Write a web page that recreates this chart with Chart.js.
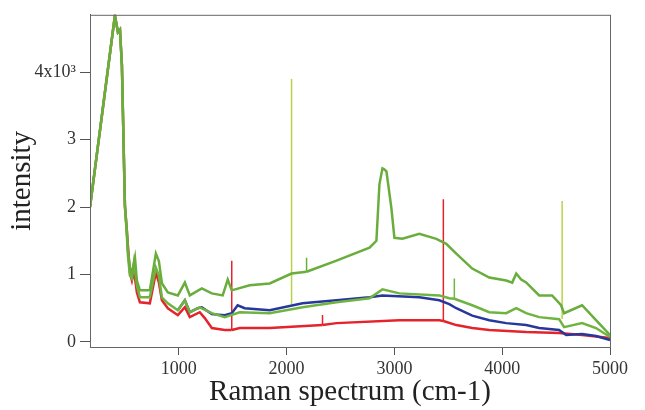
<!DOCTYPE html>
<html>
<head>
<meta charset="utf-8">
<script src="https://cdn.jsdelivr.net/npm/chart.js@4.4.0/dist/chart.umd.min.js"></script>
<style>
  body { margin: 0; background: #fff; }
</style>
</head>
<body>
<canvas id="myChart" width="645" height="410"></canvas>
<script>
/* global Chart */

// upper green trace
const topGreenX = [176, 407, 435, 454, 472, 500, 518, 528, 546, 565, 593, 611, 639, 731, 787, 815, 843, 898, 991, 1056,
  1102, 1213, 1306, 1407, 1454, 1491, 1657, 1843, 2046, 2185, 2185, 2185, 2463, 2769, 2833, 2861, 2889, 2905, 2926, 2972,
  3000, 3074, 3231, 3389, 3481, 3574, 3722, 3880, 4037, 4093, 4130, 4176, 4222, 4343, 4463, 4546, 4574, 4741, 4870, 5000];
const topGreenY = [2000, 4840, 4590, 4630, 4100, 2015, 1650, 1350, 1100, 1030, 1250, 910, 765, 765, 1310, 1200, 870, 735, 690, 880,
  690, 795, 720, 690, 925, 765, 840, 867, 1014, 1040, 1250, 1040, 1205, 1397, 1500, 2337, 2573, 2560, 2528, 1985,
  1544, 1529, 1602, 1529, 1455, 1308, 1088, 955, 911, 880, 1014, 925, 882, 690, 690, 544, 426, 544, 323, 103];

// lower green trace
const lowGreenX = [176, 407, 435, 454, 472, 500, 518, 528, 546, 565, 584, 611, 639, 731, 787, 815, 843, 898, 991, 1056,
  1102, 1194, 1306, 1426, 1565, 1843, 2148, 2463, 2769, 2889, 3046, 3417, 3509, 3556, 3556, 3556, 3722, 3880, 4037, 4130,
  4222, 4343, 4528, 4574, 4741, 4870, 5000];
const lowGreenY = [2000, 4840, 4590, 4630, 4100, 2015, 1570, 1280, 985, 940, 1176, 838, 661, 661, 1102, 985, 661, 573, 470, 617,
  441, 514, 426, 368, 441, 426, 514, 588, 647, 779, 720, 690, 647, 640, 940, 640, 544, 441, 426, 500,
  426, 368, 338, 220, 279, 206, 73];

// blue trace
const blueX = [991, 1056, 1102, 1176, 1213, 1306, 1426, 1491, 1546, 1611, 1843, 2148, 2463, 2769, 2889, 3231, 3417, 3509, 3574, 3722,
  3880, 4037, 4222, 4343, 4528, 4593, 4741, 4870, 5000];
const blueY = [470, 617, 441, 500, 514, 412, 397, 426, 544, 500, 470, 573, 617, 661, 690, 661, 617, 560, 500, 390,
  323, 279, 250, 206, 176, 103, 118, 88, 29];

// red trace
const redX = [176, 407, 435, 454, 472, 500, 518, 528, 546, 565, 584, 611, 639, 731, 787, 815, 843, 898, 991, 1056,
  1102, 1194, 1241, 1306, 1426, 1491, 1491, 1491, 1565, 1843, 2333, 2333, 2333, 2463, 3046, 3417, 3454, 3454, 3454, 3574,
  3722, 3880, 4222, 4528, 4741, 5000];
const redY = [2000, 4840, 4590, 4630, 4100, 2015, 1650, 1426, 1030, 911, 1058, 735, 588, 573, 1029, 882, 617, 500, 397, 514,
  368, 441, 353, 206, 176, 176, 1205, 176, 206, 206, 250, 400, 250, 279, 323, 323, 310, 2117, 310, 250,
  206, 176, 147, 132, 103, 59];

// thin yellow-green spikes
const spikeX = [2046, 4556];
const spikeBase = [560, 340];
const spikeTop = [3900, 2090];

const xTickValues = [1000, 2000, 3000, 4000, 5000];
const yTickValues = [0, 1000, 2000, 3000, 4000];
const yTickLabels = ['0', '1', '2', '3', '4x10³'];

function toPoints(xs, ys) {
  return xs.map((x, i) => ({ x: x, y: ys[i] }));
}

const spikePoints = [];
spikeX.forEach((x, i) => {
  spikePoints.push({ x: x, y: spikeBase[i] }, { x: x, y: spikeTop[i] }, { x: x, y: null });
});

// thinner stroke on the vertical spike segments inside a trace
function spikeWidth(ctx) {
  return ctx.p0.parsed.x === ctx.p1.parsed.x ? 1.5 : undefined;
}

const framePlugin = {
  id: 'frame',
  beforeDraw(chart) {
    const ctx = chart.ctx;
    ctx.save();
    ctx.fillStyle = '#fff';
    ctx.fillRect(0, 0, chart.width, chart.height);
    ctx.restore();
  },
  afterDraw(chart) {
    const { left, top, right, bottom } = chart.chartArea;
    const ctx = chart.ctx;
    ctx.save();
    ctx.strokeStyle = '#666';
    ctx.lineWidth = 1;
    ctx.strokeRect(left + 0.5, top + 0.5, right - left, bottom - top);
    ctx.restore();
  }
};

const serif = 'Liberation Serif, Times New Roman, serif';

const ctx = document.getElementById('myChart');
const myChart = new Chart(ctx, {
  type: 'line',
  data: {
    datasets: [
      { label: 'upper', data: toPoints(topGreenX, topGreenY), borderColor: '#69ad3c', borderWidth: 2.5, segment: { borderWidth: spikeWidth } },
      { label: 'lower', data: toPoints(lowGreenX, lowGreenY), borderColor: '#6fb440', borderWidth: 2.5, segment: { borderWidth: spikeWidth } },
      { label: 'blue', data: toPoints(blueX, blueY), borderColor: '#27379b', borderWidth: 2.5 },
      { label: 'red', data: toPoints(redX, redY), borderColor: '#e4232b', borderWidth: 2.5, segment: { borderWidth: spikeWidth } },
      { label: 'spikes', data: spikePoints, borderColor: '#b7d24a', borderWidth: 1.5, spanGaps: false }
    ]
  },
  options: {
    responsive: false,
    animation: false,
    devicePixelRatio: 1,
    layout: { padding: { top: 12, right: 35, left: 0, bottom: 0 } },
    elements: { point: { radius: 0 }, line: { tension: 0 } },
    plugins: { legend: { display: false }, tooltip: { enabled: false } },
    scales: {
      x: {
        type: 'linear',
        min: 176,
        max: 5000,
        afterBuildTicks(scale) {
          scale.ticks = xTickValues.map(v => ({ value: v }));
        },
        ticks: {
          maxRotation: 0,
          autoSkip: false,
          padding: 3,
          color: '#333',
          font: { family: serif, size: 18 },
          callback(value) { return String(value); }
        },
        grid: { drawOnChartArea: false, tickLength: 8, color: '#555' },
        border: { color: '#555', width: 1 },
        title: {
          display: true,
          text: 'Raman spectrum (cm-1)',
          color: '#222',
          font: { family: serif, size: 29 },
          padding: { top: 0, bottom: 0 }
        },
        afterFit(scale) { scale.height = 63; }
      },
      y: {
        min: -75,
        max: 4850,
        afterBuildTicks(scale) {
          scale.ticks = yTickValues.map(v => ({ value: v }));
        },
        ticks: {
          autoSkip: false,
          padding: 4,
          color: '#333',
          font: { family: serif, size: 18 },
          callback(value) {
            const i = yTickValues.indexOf(value);
            return i >= 0 ? yTickLabels[i] : '';
          }
        },
        grid: { drawOnChartArea: false, tickLength: 10, color: '#555' },
        border: { color: '#555', width: 1 },
        title: {
          display: true,
          text: 'intensity',
          color: '#222',
          font: { family: serif, size: 29 },
          padding: { top: 5, bottom: 0 }
        },
        afterFit(scale) { scale.width = 90; }
      }
    }
  },
  plugins: [framePlugin]
});
</script>
</body>
</html>
